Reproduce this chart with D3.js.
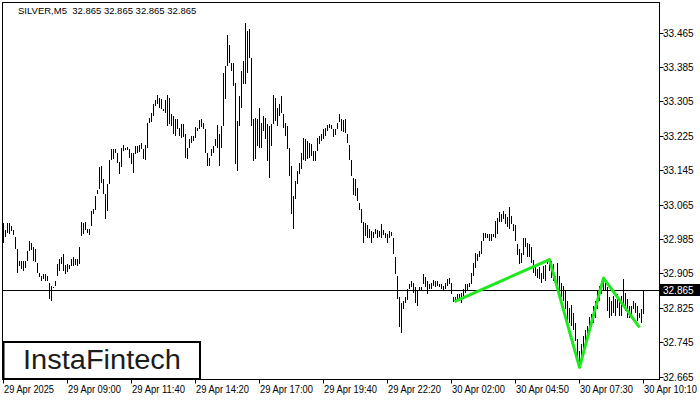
<!DOCTYPE html>
<html>
<head>
<meta charset="utf-8">
<script src="https://cdn.jsdelivr.net/npm/d3@7"></script>
<style>
  body { margin: 0; background: #fff; }
  text { font-family: "Liberation Sans", Arial, sans-serif; }
</style>
</head>
<body>
<div id="chart"></div>
<script>
// bar highs / lows (SILVER, M5), one per bar from 29 Apr 06:20 to 30 Apr 10:10
const highs = [
  33.022, 33.006, 33.022, 33.022, 33.015, 33.006, 32.990, 32.962, 32.934, 32.934,
  32.934, 32.934, 32.958, 32.979, 32.976, 32.965, 32.962, 32.929, 32.906, 32.899,
  32.904, 32.904, 32.899, 32.883, 32.876, 32.874, 32.888, 32.927, 32.939, 32.942,
  32.951, 32.925, 32.927, 32.925, 32.939, 32.944, 32.939, 32.939, 32.965, 33.025,
  33.022, 33.025, 33.008, 33.008, 33.051, 33.055, 33.085, 33.099, 33.153, 33.155,
  33.125, 33.090, 33.113, 33.169, 33.194, 33.194, 33.194, 33.185, 33.165, 33.197,
  33.204, 33.197, 33.199, 33.194, 33.185, 33.185, 33.201, 33.201, 33.204, 33.208,
  33.194, 33.204, 33.255, 33.267, 33.278, 33.299, 33.309, 33.320, 33.313, 33.311,
  33.288, 33.309, 33.320, 33.313, 33.276, 33.271, 33.264, 33.264, 33.243, 33.253,
  33.253, 33.230, 33.197, 33.218, 33.225, 33.225, 33.246, 33.243, 33.262, 33.264,
  33.255, 33.241, 33.185, 33.174, 33.194, 33.201, 33.218, 33.250, 33.230, 33.248,
  33.371, 33.388, 33.460, 33.437, 33.395, 33.395, 33.348, 33.260, 33.318, 33.376,
  33.399, 33.486, 33.469, 33.474, 33.406, 33.264, 33.267, 33.264, 33.290, 33.255,
  33.271, 33.267, 33.253, 33.248, 33.253, 33.320, 33.313, 33.290, 33.299, 33.318,
  33.276, 33.255, 33.248, 33.197, 33.155, 33.085, 33.120, 33.144, 33.162, 33.185,
  33.220, 33.218, 33.213, 33.208, 33.206, 33.190, 33.190, 33.220, 33.225, 33.230,
  33.241, 33.243, 33.250, 33.253, 33.250, 33.241, 33.241, 33.255, 33.276, 33.264,
  33.262, 33.264, 33.230, 33.204, 33.169, 33.127, 33.125, 33.104, 33.069, 33.055,
  33.025, 33.022, 33.018, 33.008, 33.004, 33.002, 33.008, 33.006, 33.004, 33.020,
  33.006, 32.999, 32.997, 33.004, 33.002, 32.988, 32.942, 32.899, 32.849, 32.837,
  32.841, 32.849, 32.869, 32.881, 32.888, 32.883, 32.872, 32.865, 32.872, 32.872,
  32.904, 32.897, 32.886, 32.881, 32.883, 32.890, 32.886, 32.888, 32.881, 32.881,
  32.876, 32.883, 32.892, 32.895, 32.883, 32.851, 32.849, 32.856, 32.858, 32.860,
  32.869, 32.881, 32.879, 32.883, 32.906, 32.929, 32.953, 32.951, 32.958, 32.979,
  32.999, 32.999, 32.997, 32.997, 32.997, 32.997, 33.027, 33.034, 33.048, 33.044,
  33.051, 33.044, 33.037, 33.060, 33.039, 33.020, 33.018, 32.974, 32.962, 32.953,
  32.988, 32.986, 32.976, 32.974, 32.965, 32.937, 32.925, 32.915, 32.920, 32.906,
  32.922, 32.925, 32.939, 32.939, 32.934, 32.927, 32.899, 32.929, 32.899, 32.883,
  32.876, 32.865, 32.841, 32.825, 32.832, 32.813, 32.790, 32.753, 32.725, 32.741,
  32.760, 32.772, 32.783, 32.804, 32.811, 32.830, 32.841, 32.865, 32.876, 32.888,
  32.895, 32.888, 32.872, 32.849, 32.841, 32.853, 32.846, 32.858, 32.846, 32.853,
  32.892, 32.860, 32.846, 32.830, 32.830, 32.841, 32.837, 32.830, 32.813, 32.823,
  32.865
];
const lows = [
  32.976, 32.990, 32.999, 32.997, 33.004, 32.995, 32.962, 32.906, 32.922, 32.915,
  32.911, 32.918, 32.934, 32.958, 32.960, 32.934, 32.932, 32.906, 32.897, 32.888,
  32.892, 32.888, 32.888, 32.846, 32.841, 32.872, 32.876, 32.899, 32.911, 32.927,
  32.911, 32.904, 32.909, 32.915, 32.922, 32.922, 32.925, 32.922, 32.927, 32.992,
  32.997, 33.006, 32.999, 32.995, 33.015, 33.044, 33.053, 33.090, 33.101, 33.115,
  33.090, 33.032, 33.051, 33.113, 33.169, 33.171, 33.185, 33.162, 33.135, 33.153,
  33.190, 33.192, 33.192, 33.174, 33.160, 33.139, 33.183, 33.185, 33.188, 33.194,
  33.171, 33.169, 33.197, 33.255, 33.258, 33.271, 33.295, 33.299, 33.290, 33.288,
  33.283, 33.278, 33.248, 33.253, 33.248, 33.230, 33.225, 33.241, 33.225, 33.220,
  33.223, 33.174, 33.171, 33.197, 33.208, 33.213, 33.220, 33.237, 33.241, 33.246,
  33.241, 33.185, 33.155, 33.155, 33.178, 33.185, 33.201, 33.197, 33.155, 33.197,
  33.248, 33.311, 33.388, 33.395, 33.376, 33.341, 33.160, 33.144, 33.248, 33.290,
  33.346, 33.346, 33.371, 33.406, 33.248, 33.167, 33.171, 33.201, 33.197, 33.197,
  33.237, 33.218, 33.167, 33.127, 33.201, 33.253, 33.260, 33.248, 33.271, 33.278,
  33.243, 33.225, 33.194, 33.132, 33.044, 33.008, 33.078, 33.113, 33.137, 33.148,
  33.169, 33.167, 33.171, 33.174, 33.178, 33.167, 33.167, 33.190, 33.206, 33.213,
  33.218, 33.225, 33.237, 33.243, 33.241, 33.223, 33.227, 33.241, 33.258, 33.237,
  33.234, 33.232, 33.208, 33.169, 33.132, 33.088, 33.085, 33.074, 33.053, 33.022,
  32.976, 32.992, 32.988, 32.988, 32.976, 32.986, 32.997, 32.986, 32.990, 32.988,
  32.995, 32.988, 32.976, 32.988, 32.992, 32.951, 32.904, 32.846, 32.779, 32.767,
  32.823, 32.837, 32.844, 32.869, 32.872, 32.860, 32.837, 32.830, 32.865, 32.865,
  32.881, 32.872, 32.858, 32.869, 32.869, 32.876, 32.872, 32.876, 32.872, 32.869,
  32.865, 32.869, 32.876, 32.881, 32.858, 32.839, 32.841, 32.844, 32.841, 32.837,
  32.853, 32.860, 32.865, 32.872, 32.881, 32.899, 32.918, 32.934, 32.942, 32.951,
  32.981, 32.986, 32.988, 32.979, 32.981, 32.990, 32.986, 32.997, 33.025, 33.025,
  33.032, 33.020, 33.013, 33.008, 33.020, 33.004, 32.981, 32.948, 32.927, 32.929,
  32.948, 32.965, 32.942, 32.942, 32.929, 32.906, 32.899, 32.895, 32.892, 32.883,
  32.892, 32.888, 32.927, 32.911, 32.895, 32.888, 32.883, 32.876, 32.860, 32.851,
  32.841, 32.823, 32.790, 32.790, 32.783, 32.772, 32.748, 32.702, 32.688, 32.709,
  32.725, 32.741, 32.755, 32.772, 32.783, 32.790, 32.802, 32.823, 32.841, 32.858,
  32.865, 32.865, 32.818, 32.800, 32.806, 32.813, 32.806, 32.825, 32.806, 32.806,
  32.834, 32.818, 32.800, 32.800, 32.806, 32.823, 32.813, 32.795, 32.800, 32.790,
  32.811
];

// time axis labels (bar index -> text)
const timeIdx = [0, 32, 64, 96, 128, 160, 192, 224, 256, 288, 320];
const timeText = ["29 Apr 2025", "29 Apr 09:00", "29 Apr 11:40", "29 Apr 14:20", "29 Apr 17:00",
  "29 Apr 19:40", "29 Apr 22:20", "30 Apr 02:00", "30 Apr 04:50", "30 Apr 07:30", "30 Apr 10:10"];

// price axis ticks
const priceTicks = [33.465, 33.385, 33.305, 33.225, 33.145, 33.065, 32.985, 32.905, 32.825, 32.745, 32.665];
const lastPrice = 32.865;

// pattern (green) points: bar index, price
const patIdx = [225.5, 273, 288, 300, 318];
const patPrice = [32.839, 32.937, 32.686, 32.894, 32.779];

const W = 700, H = 400;
const plot = {left: 2.5, top: 2.5, right: 659.5, bottom: 379.5};

const svg = d3.select("#chart").append("svg")
  .attr("width", W).attr("height", H)
  .style("display", "block");

svg.append("rect").attr("width", W).attr("height", H).attr("fill", "#fff");

const x = d3.scaleLinear().domain([0, 320]).range([3, 643]);
const y = d3.scaleLinear().domain([32.665, 33.465]).range([376.5, 32.5]);

// frame
svg.append("rect")
  .attr("x", plot.left).attr("y", plot.top)
  .attr("width", plot.right - plot.left).attr("height", plot.bottom - plot.top)
  .attr("fill", "none").attr("stroke", "#000").attr("stroke-width", 1);

// bars
svg.append("g").selectAll("rect")
  .data(highs)
  .enter().append("rect")
  .attr("x", (d, i) => x(i))
  .attr("y", d => Math.round(y(d)))
  .attr("width", 1)
  .attr("height", (d, i) => Math.max(1, Math.round(y(lows[i])) - Math.round(y(d))))
  .attr("fill", "#000")
  .attr("shape-rendering", "crispEdges");

// last price line
svg.append("line")
  .attr("x1", plot.left).attr("x2", plot.right)
  .attr("y1", Math.round(y(lastPrice)) + 0.5).attr("y2", Math.round(y(lastPrice)) + 0.5)
  .attr("stroke", "#000").attr("stroke-width", 1);

// pattern
const pts = patIdx.map((d, i) => [x(d) + 0.5, y(patPrice[i])]);
svg.append("path")
  .attr("d", d3.line()(pts))
  .attr("fill", "none")
  .attr("stroke", "#1ee81e")
  .attr("stroke-width", 3)
  .attr("stroke-linejoin", "round");

// right price axis
const yAx = svg.append("g");
priceTicks.forEach(p => {
  const yy = Math.round(y(p)) + 0.5;
  yAx.append("line").attr("x1", plot.right).attr("x2", plot.right + 4)
    .attr("y1", yy).attr("y2", yy).attr("stroke", "#000");
  yAx.append("text").attr("x", 663).attr("y", yy + 3.5)
    .attr("font-size", "10px").attr("fill", "#000").text(p.toFixed(3));
});

// last price tag
const ly = Math.round(y(lastPrice));
svg.append("rect").attr("x", 660).attr("y", ly - 6).attr("width", 40).attr("height", 12).attr("fill", "#000");
svg.append("text").attr("x", 663).attr("y", ly + 4)
  .attr("font-size", "10px").attr("fill", "#fff").text(lastPrice.toFixed(3));

// bottom time axis
const xAx = svg.append("g");
timeIdx.forEach((t, i) => {
  const xx = Math.round(x(t)) + 0.5;
  xAx.append("line").attr("x1", xx).attr("x2", xx)
    .attr("y1", plot.bottom).attr("y2", plot.bottom + 4).attr("stroke", "#000");
  xAx.append("text").attr("x", xx + 0.5).attr("y", 393)
    .attr("font-size", "10px").attr("fill", "#000")
    .attr("textLength", i === 0 ? 50 : 53).attr("lengthAdjust", "spacingAndGlyphs")
    .text(timeText[i]);
});

// header
svg.append("text").attr("x", 18).attr("y", 14)
  .attr("font-size", "9.5px").attr("fill", "#000")
  .attr("xml:space", "preserve")
  .text("SILVER,M5  32.865 32.865 32.865 32.865");

// logo
svg.append("rect").attr("x", 3.5).attr("y", 342).attr("width", 196.5).attr("height", 37)
  .attr("fill", "#fff").attr("stroke", "#000").attr("stroke-width", 2);
svg.append("text").attr("x", 23).attr("y", 369)
  .attr("font-family", "Inter, 'Open Sans', sans-serif")
  .attr("font-size", "27px").attr("font-weight", 500).attr("fill", "#1c1c1c")
  .attr("textLength", 158).attr("lengthAdjust", "spacingAndGlyphs")
  .text("InstaFintech");
</script>
</body>
</html>
